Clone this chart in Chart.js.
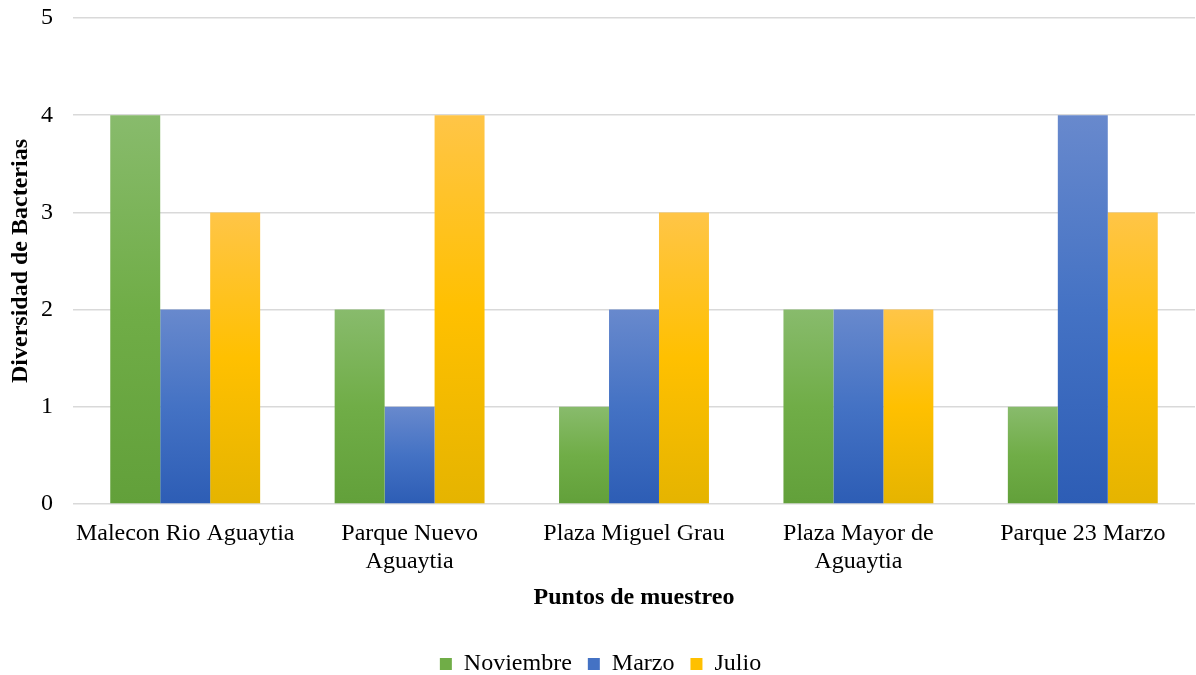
<!DOCTYPE html>
<html>
<head>
<meta charset="utf-8">
<script src="https://cdn.jsdelivr.net/npm/chart.js@4.4.1/dist/chart.umd.min.js"></script>
<style>
  html, body { margin: 0; padding: 0; background: #ffffff; }
  #wrap { width: 1196px; height: 675px; position: relative; }
</style>
</head>
<body>
<div id="wrap"><canvas id="chart"></canvas></div>
<script>
// Sampling points (multi-line labels) and bacterial diversity per month
const categories = [
  ['Malecon Rio Aguaytia'],
  ['Parque Nuevo', 'Aguaytia'],
  ['Plaza Miguel Grau'],
  ['Plaza Mayor de', 'Aguaytia'],
  ['Parque 23 Marzo']
];
const noviembre = [4, 2, 1, 2, 1];
const marzo = [2, 1, 2, 2, 4];
const julio = [3, 4, 3, 2, 3];
const yTicks = [0, 1, 2, 3, 4, 5];

// light top -> base middle -> dark bottom, per bar
const palettes = {
  green: ['#88bb6c', '#70ad47', '#62a03a'],
  blue: ['#6889cd', '#4472c4', '#2d5db5'],
  gold: ['#ffc547', '#ffc000', '#e5b400']
};

function barFill(p) {
  return function (ctx) {
    const chart = ctx.chart;
    if (ctx.type !== 'data' || !chart.chartArea || !chart.scales.y) return p[1];
    const y = chart.scales.y;
    const top = y.getPixelForValue(ctx.raw);
    const bottom = y.getPixelForValue(0);
    if (!isFinite(top) || !isFinite(bottom) || top === bottom) return p[1];
    const g = chart.ctx.createLinearGradient(0, top, 0, bottom);
    g.addColorStop(0, p[0]);
    g.addColorStop(0.5, p[1]);
    g.addColorStop(1, p[2]);
    return g;
  };
}

const serif = "'Liberation Serif', 'Times New Roman', serif";
const FS = 24;

new Chart(document.getElementById('chart'), {
  type: 'bar',
  data: {
    labels: categories,
    datasets: [
      { label: 'Noviembre', data: noviembre, backgroundColor: barFill(palettes.green), legendColor: palettes.green[1] },
      { label: 'Marzo', data: marzo, backgroundColor: barFill(palettes.blue), legendColor: palettes.blue[1] },
      { label: 'Julio', data: julio, backgroundColor: barFill(palettes.gold), legendColor: palettes.gold[1] }
    ]
  },
  options: {
    responsive: true,
    maintainAspectRatio: false,
    animation: false,
    layout: { padding: { top: 0, right: 1, left: 6, bottom: -11 } },
    datasets: {
      bar: { categoryPercentage: 0.668, barPercentage: 1.0, borderWidth: 0 }
    },
    scales: {
      x: {
        grid: { display: false },
        border: { display: false },
        // category labels fit inside their slots; no extra side padding
        afterFit: (axis) => { axis.paddingLeft = 0; axis.paddingRight = 0; },
        ticks: {
          color: '#000000',
          font: { family: serif, size: FS, lineHeight: 1.17 },
          padding: 8,
          maxRotation: 0,
          autoSkip: false
        },
        title: {
          display: true,
          text: 'Puntos de muestreo',
          color: '#000000',
          font: { family: serif, size: FS, weight: 'bold' },
          padding: { top: -1, bottom: 24 }
        }
      },
      y: {
        min: 0,
        max: 5,
        afterBuildTicks: (axis) => { axis.ticks = yTicks.map(v => ({ value: v })); },
        // fixed axis band: title + tick labels + gap before the plot
        afterFit: (axis) => { axis.width = 67; axis.paddingTop = 18; },
        grid: { color: '#d9d9d9', lineWidth: 1.5, drawTicks: false },
        border: { display: false },
        ticks: {
          color: '#000000',
          font: { family: serif, size: FS },
          padding: 20
        },
        title: {
          display: true,
          text: 'Diversidad de Bacterias',
          color: '#000000',
          font: { family: serif, size: FS, weight: 'bold' },
          padding: { top: 0, bottom: 6 }
        }
      }
    },
    plugins: {
      tooltip: { enabled: false },
      legend: {
        position: 'bottom',
        labels: {
          color: '#000000',
          font: { family: serif, size: FS },
          boxWidth: 12,
          boxHeight: 12,
          padding: 16,
          generateLabels: (chart) => chart.data.datasets.map((ds, i) => ({
            text: ds.label,
            fillStyle: ds.legendColor,
            strokeStyle: ds.legendColor,
            lineWidth: 0,
            hidden: !chart.isDatasetVisible(i),
            datasetIndex: i,
            fontColor: '#000000'
          }))
        }
      }
    }
  }
});
</script>
</body>
</html>
